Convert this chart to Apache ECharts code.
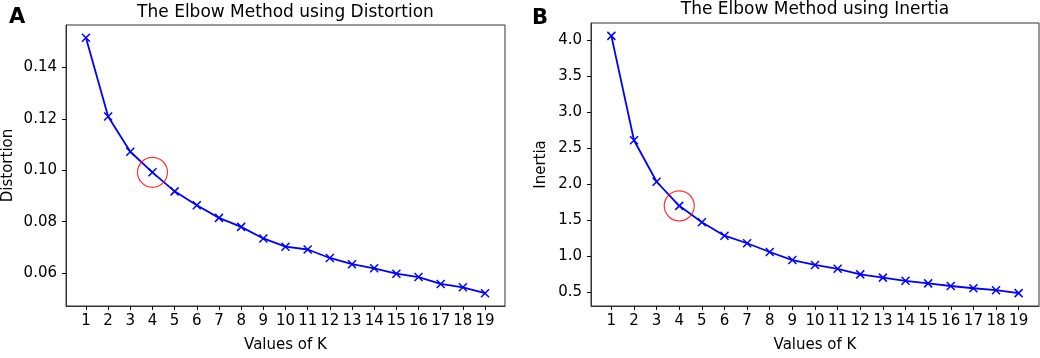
<!DOCTYPE html>
<html>
<head>
<meta charset="utf-8">
<script src="https://cdn.jsdelivr.net/npm/echarts@6/dist/echarts.min.js"></script>
<style>html,body{margin:0;padding:0;background:#fff}#c{width:1040px;height:358px}</style>
</head>
<body>
<div id="c"></div>
<script>
const kValues = [1,2,3,4,5,6,7,8,9,10,11,12,13,14,15,16,17,18,19];
const distortion = [0.1515,0.1209,0.1072,0.0992,0.0918,0.0864,0.0815,0.0780,0.0735,0.0703,0.0692,0.0659,0.0635,0.0619,0.0598,0.0585,0.0558,0.0545,0.0522];
const inertia = [4.064,2.612,2.035,1.700,1.473,1.285,1.180,1.058,0.946,0.878,0.824,0.747,0.702,0.657,0.622,0.585,0.554,0.527,0.486];
const distTicks = [0.06,0.08,0.10,0.12,0.14];
const inertiaTicks = [0.5,1.0,1.5,2.0,2.5,3.0,3.5,4.0];
const elbowK = 4;

const FONT = 'DejaVu Sans';
const chart = echarts.init(document.getElementById('c'), null, {renderer:'canvas'});
const xMark = 'path://M0,0L10,10M10,0L0,10';

function pad(arr){ const mn=Math.min(...arr), mx=Math.max(...arr), p=(mx-mn)*0.05; return [mn-p, mx+p]; }
const kr = pad(kValues), dr = pad(distortion), ir = pad(inertia);

function xAxis(gi){
  return {
    type:'value', gridIndex:gi, min:kr[0], max:kr[1],
    name:'Values of K', nameLocation:'middle', nameGap:32,
    nameTextStyle:{fontFamily:FONT, fontSize:15, color:'#000'},
    axisLine:{show:true, lineStyle:{color:'#333', width:1}},
    axisTick:{show:true, length:4, customValues:kValues, lineStyle:{color:'#000'}},
    axisLabel:{customValues:kValues, margin:8, fontFamily:FONT, fontSize:15, color:'#000'},
    splitLine:{show:false}
  };
}
function yAxis(gi, r, ticks, name, gap, dec){
  return {
    type:'value', gridIndex:gi, min:r[0], max:r[1],
    name:name, nameLocation:'middle', nameGap:gap, nameRotate:90,
    nameTextStyle:{fontFamily:FONT, fontSize:15, color:'#000'},
    axisLine:{show:true, lineStyle:{color:'#333', width:1}},
    axisTick:{show:true, length:4, customValues:ticks, lineStyle:{color:'#000'}},
    axisLabel:{customValues:ticks, margin:9, fontFamily:FONT, fontSize:15, color:'#000', formatter:v=>v.toFixed(dec)},
    splitLine:{show:false}
  };
}
function lineSeries(gi, vals){
  return {
    type:'line', xAxisIndex:gi, yAxisIndex:gi,
    data:kValues.map((k,i)=>[k, vals[i]]),
    lineStyle:{color:'#0000ff', width:1.8},
    symbol:xMark, symbolSize:8, showSymbol:true,
    itemStyle:{color:'transparent', borderColor:'#0000ff', borderWidth:1.5},
    animation:false, z:3
  };
}
function circleSeries(gi, vals){
  return {
    type:'scatter', xAxisIndex:gi, yAxisIndex:gi,
    data:[[elbowK, vals[kValues.indexOf(elbowK)]]],
    symbol:'circle', symbolSize:30,
    itemStyle:{color:'transparent', borderColor:'#ff0000', borderWidth:1.2},
    animation:false, z:4
  };
}

chart.setOption({
  animation:false,
  grid:[
    {left:66, top:25, width:439, height:284, show:true, borderColor:'#333', borderWidth:1, containLabel:false},
    {left:591, top:23, width:448, height:290, show:true, borderColor:'#333', borderWidth:1, containLabel:false}
  ],
  xAxis:[xAxis(0), xAxis(1)],
  yAxis:[yAxis(0, dr, distTicks, 'Distortion', 50, 2), yAxis(1, ir, inertiaTicks, 'Inertia', 42, 1)],
  series:[lineSeries(0, distortion), circleSeries(0, distortion), lineSeries(1, inertia), circleSeries(1, inertia)],
  graphic:[
    {type:'text', left:9, top:7, style:{text:'A', font:'bold 21px "DejaVu Sans"', fill:'#000'}},
    {type:'text', left:532, top:8, style:{text:'B', font:'bold 21px "DejaVu Sans"', fill:'#000'}},
    {type:'text', x:285.5, y:13, style:{text:'The Elbow Method using Distortion', font:'17px "DejaVu Sans"', fill:'#000', align:'center', verticalAlign:'middle'}},
    {type:'text', x:815, y:10, style:{text:'The Elbow Method using Inertia', font:'17px "DejaVu Sans"', fill:'#000', align:'center', verticalAlign:'middle'}}
  ]
});
</script>
</body>
</html>
